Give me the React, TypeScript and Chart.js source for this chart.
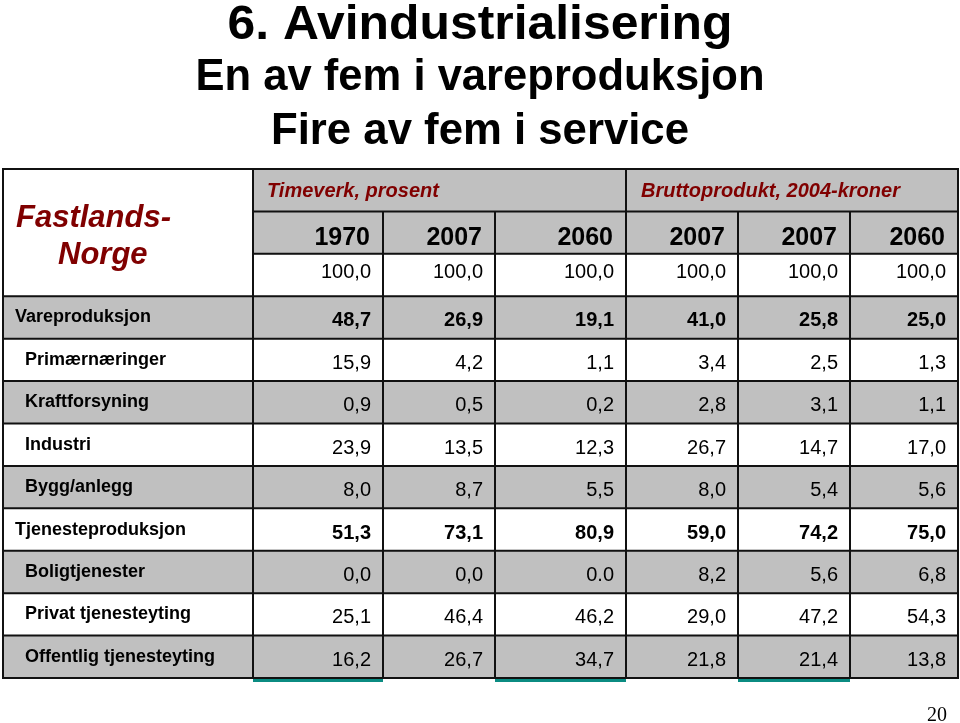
import React, { useEffect, useRef } from "react";
import { Chart, registerables } from "chart.js";

Chart.register(...registerables);

// ---------- Data ----------
const TITLE_LINES = ["6. Avindustrialisering", "En av fem i vareproduksjon", "Fire av fem i service"];
const CORNER_LABEL = ["Fastlands-", "Norge"];
const GROUP_HEADERS = ["Timeverk, prosent", "Bruttoprodukt, 2004-kroner"];
const YEARS = ["1970", "2007", "2060", "2007", "2007", "2060"];
const TOTAL = ["100,0", "100,0", "100,0", "100,0", "100,0", "100,0"];
const ROW_LABELS = [
  "Vareproduksjon",
  "Primærnæringer",
  "Kraftforsyning",
  "Industri",
  "Bygg/anlegg",
  "Tjenesteproduksjon",
  "Boligtjenester",
  "Privat tjenesteyting",
  "Offentlig tjenesteyting",
];
const vareproduksjon = ["48,7", "26,9", "19,1", "41,0", "25,8", "25,0"];
const primaernaeringer = ["15,9", "4,2", "1,1", "3,4", "2,5", "1,3"];
const kraftforsyning = ["0,9", "0,5", "0,2", "2,8", "3,1", "1,1"];
const industri = ["23,9", "13,5", "12,3", "26,7", "14,7", "17,0"];
const byggAnlegg = ["8,0", "8,7", "5,5", "8,0", "5,4", "5,6"];
const tjenesteproduksjon = ["51,3", "73,1", "80,9", "59,0", "74,2", "75,0"];
const boligtjenester = ["0,0", "0,0", "0.0", "8,2", "5,6", "6,8"];
const privatTjenesteyting = ["25,1", "46,4", "46,2", "29,0", "47,2", "54,3"];
const offentligTjenesteyting = ["16,2", "26,7", "34,7", "21,8", "21,4", "13,8"];
const PAGE_NUMBER = "20";

const ROW_VALUES = [
  vareproduksjon,
  primaernaeringer,
  kraftforsyning,
  industri,
  byggAnlegg,
  tjenesteproduksjon,
  boligtjenester,
  privatTjenesteyting,
  offentligTjenesteyting,
];

// ---------- Layout / style ----------
const ROW_KEYS = ["group", "year", "total", ...ROW_LABELS];
const MAIN_ROWS = ["Vareproduksjon", "Tjenesteproduksjon"];
const SHADED = [true, true, false, true, false, true, false, true, false, true, false, true];
const COL_EDGES = [0, 250, 380, 492, 623, 735, 847, 955]; // x units
const GROUP_SPLIT = 623;
const UNDERLINED_COLS = [0, 2, 4];
const TITLE_WIDTHS = [505, 569, 418];
const GRAY = "#c0c0c0";
const RED = "#800000";
const TEAL = "#0b8c82";
const LINE = "#111111";
const SANS = "'Liberation Sans', Arial, Helvetica, sans-serif";
const SERIF = "'Liberation Serif', 'Times New Roman', serif";

function fitted(ctx: CanvasRenderingContext2D, text: string, cx: number, base: number, font: string, target: number) {
  ctx.font = font;
  const w = ctx.measureText(text).width;
  const s = target / w;
  ctx.save();
  ctx.translate(cx, base);
  ctx.scale(s, 1);
  ctx.textAlign = "center";
  ctx.textBaseline = "alphabetic";
  ctx.fillText(text, 0, 0);
  ctx.restore();
}

const tablePlugin = {
  id: "tablePlugin",
  beforeDraw(chart: any) {
    const ctx = chart.ctx as CanvasRenderingContext2D;
    ctx.save();
    ctx.fillStyle = "#ffffff";
    ctx.fillRect(0, 0, chart.width, chart.height);
    ctx.restore();
  },
  afterDatasetsDraw(chart: any) {
    const ctx = chart.ctx as CanvasRenderingContext2D;
    const xs = chart.scales.x;
    const ys = chart.scales.y;
    const X = (v: number) => xs.getPixelForValue(v);
    const cy = (i: number) => ys.getPixelForValue(i);
    const band = cy(1) - cy(0);
    const rowTop = (i: number) => cy(i) - band / 2;
    const n = ROW_KEYS.length;
    const left = X(0);
    const right = X(COL_EDGES[COL_EDGES.length - 1]);
    const top = rowTop(0);
    const bottom = rowTop(n);

    ctx.save();
    // grid lines
    ctx.strokeStyle = LINE;
    ctx.lineWidth = 2;
    ctx.beginPath();
    for (let i = 1; i < n; i++) {
      const yy = rowTop(i);
      const x0 = i < 3 ? X(COL_EDGES[1]) : left;
      ctx.moveTo(x0, yy);
      ctx.lineTo(right, yy);
    }
    for (let c = 2; c < COL_EDGES.length - 1; c++) {
      const xx = X(COL_EDGES[c]);
      const y0 = COL_EDGES[c] === GROUP_SPLIT ? top : rowTop(1);
      ctx.moveTo(xx, y0);
      ctx.lineTo(xx, bottom);
    }
    ctx.moveTo(X(COL_EDGES[1]), top);
    ctx.lineTo(X(COL_EDGES[1]), bottom);
    ctx.stroke();
    ctx.strokeRect(left, top, right - left, bottom - top);

    // teal underlines
    ctx.fillStyle = TEAL;
    UNDERLINED_COLS.forEach((c) => {
      ctx.fillRect(X(COL_EDGES[c + 1]), bottom + 1, X(COL_EDGES[c + 2]) - X(COL_EDGES[c + 1]), 3);
    });

    // corner label
    ctx.fillStyle = RED;
    ctx.textAlign = "left";
    ctx.textBaseline = "alphabetic";
    ctx.font = `italic bold 31px ${SANS}`;
    ctx.fillText(CORNER_LABEL[0], left + 13, top + 58);
    ctx.fillText(CORNER_LABEL[1], left + 55, top + 95);

    // group headers
    ctx.font = `italic bold 20px ${SANS}`;
    ctx.fillText(GROUP_HEADERS[0], X(COL_EDGES[1]) + 14, cy(0) + 7);
    ctx.fillText(GROUP_HEADERS[1], X(GROUP_SPLIT) + 15, cy(0) + 7);

    // years
    ctx.fillStyle = "#000";
    ctx.textAlign = "right";
    ctx.font = `bold 25px ${SANS}`;
    YEARS.forEach((t, c) => ctx.fillText(t, X(COL_EDGES[c + 2]) - 13, cy(1) + 12));

    // totals
    ctx.font = `20px ${SANS}`;
    TOTAL.forEach((t, c) => ctx.fillText(t, X(COL_EDGES[c + 2]) - 12, cy(2) + 3));

    // data rows
    ROW_LABELS.forEach((label, r) => {
      const i = r + 3;
      const main = MAIN_ROWS.includes(label);
      ctx.textAlign = "left";
      ctx.font = `bold 18px ${SANS}`;
      ctx.fillText(label, left + (main ? 12 : 22), cy(i) + 5);
      ctx.textAlign = "right";
      ctx.font = `${main ? "bold " : ""}20px ${SANS}`;
      ROW_VALUES[r].forEach((v, c) => ctx.fillText(v, X(COL_EDGES[c + 2]) - 12, cy(i) + 9));
    });

    // titles
    ctx.fillStyle = "#000";
    const cx = chart.width / 2;
    fitted(ctx, TITLE_LINES[0], cx, 38.5, `bold 49px ${SANS}`, TITLE_WIDTHS[0]);
    fitted(ctx, TITLE_LINES[1], cx, 89.5, `bold 45px ${SANS}`, TITLE_WIDTHS[1]);
    fitted(ctx, TITLE_LINES[2], cx, 144, `bold 45px ${SANS}`, TITLE_WIDTHS[2]);

    // page number
    ctx.textAlign = "right";
    ctx.font = `20px ${SERIF}`;
    ctx.fillText(PAGE_NUMBER, 947, 721);
    ctx.restore();
  },
};

export default function App() {
  const ref = useRef<HTMLCanvasElement | null>(null);
  useEffect(() => {
    document.body.style.margin = "0";
    if (!ref.current) return;
    const bg = ROW_KEYS.map((_, i) =>
      SHADED[i] ? [i < 2 ? COL_EDGES[1] : COL_EDGES[0], COL_EDGES[COL_EDGES.length - 1]] : null
    );
    const chart = new Chart(ref.current, {
      type: "bar",
      data: {
        labels: ROW_KEYS,
        datasets: [
          {
            data: bg as any,
            backgroundColor: GRAY,
            borderWidth: 0,
            barPercentage: 1,
            categoryPercentage: 1,
          },
        ],
      },
      options: {
        indexAxis: "y",
        responsive: false,
        animation: false,
        layout: { padding: { left: 3, top: 169, right: 2, bottom: 45 } },
        plugins: { legend: { display: false }, tooltip: { enabled: false }, title: { display: false } },
        scales: {
          x: { type: "linear", min: 0, max: COL_EDGES[COL_EDGES.length - 1], display: false },
          y: { type: "category", display: false, offset: true, grid: { display: false } },
        },
      },
      plugins: [tablePlugin],
    });
    return () => chart.destroy();
  }, []);
  return (
    <div style={{ position: "fixed", left: 0, top: 0, width: 960, height: 723 }}>
      <canvas ref={ref} width={960} height={723} style={{ display: "block" }} />
    </div>
  );
}
